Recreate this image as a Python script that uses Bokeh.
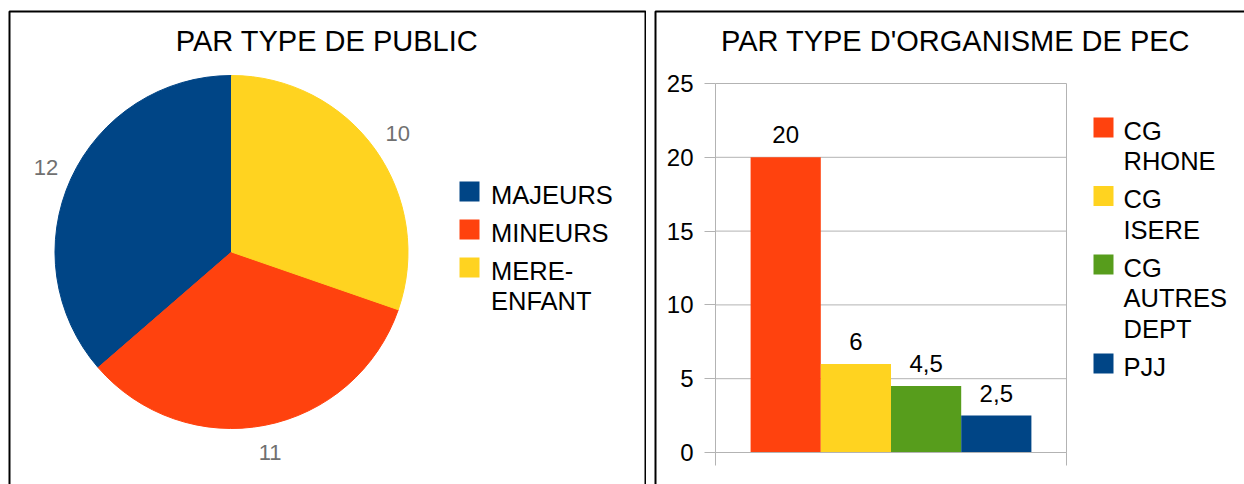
import math
from bokeh.plotting import figure
from bokeh.models import (Range1d, Label, LabelSet, BoxAnnotation, ColumnDataSource,
                          FixedTicker, LinearAxis)
from bokeh.layouts import row
from bokeh.embed import file_html
from bokeh.resources import INLINE
from bokeh.core.properties import value

# ---------------- data ----------------
pie_title = "PAR TYPE DE PUBLIC"
pie_labels = ["MAJEURS", "MINEURS", "MERE-\nENFANT"]
pie_values = [12, 11, 10]
pie_colors = ["#004586", "#ff420e", "#ffd320"]

bar_title = "PAR TYPE D'ORGANISME DE PEC"
bar_labels = ["CG\nRHONE", "CG\nISERE", "CG\nAUTRES\nDEPT", "PJJ"]
bar_values = [20, 6, 4.5, 2.5]
bar_colors = ["#ff420e", "#ffd320", "#579d1c", "#004586"]
y_ticks = [0, 5, 10, 15, 20, 25]

FONT = "Liberation Sans"
GRID = "#b3b3b3"
H = 484
LEG_LINE = 30.5
LEG_GAP = 38.0


def legend_layout(labels, first_center):
    """Return square centres and per-line text positions (page y) for a wrapped legend."""
    sq, tx, ty = [], [], []
    y = first_center
    for lab in labels:
        lines = lab.split("\n")
        sq.append(y - 3)
        for j, ln in enumerate(lines):
            tx.append(ln)
            ty.append(y + j * LEG_LINE)
        y += (len(lines) - 1) * LEG_LINE + LEG_GAP
    return sq, tx, ty


# ---------------- left: pie (data units = page pixels) ----------------
W1 = 646
p1 = figure(width=W1, height=H, x_range=Range1d(0, W1), y_range=Range1d(0, H),
            output_backend="svg", toolbar_location=None, min_border=0, title=None,
            x_axis_type=None, y_axis_type=None, outline_line_color=None)

def LY(py):
    return H - py

cx, cy, r = 231, LY(251.5), 176.5
total = sum(pie_values)
starts, ends = [], []
a = math.pi / 2
for v in pie_values:
    starts.append(a)
    a += 2 * math.pi * v / total
    ends.append(a)
src1 = ColumnDataSource(dict(start=starts, end=ends, color=pie_colors))
p1.wedge(x=cx, y=cy, radius=r, start_angle="start", end_angle="end",
         fill_color="color", line_color="color", line_width=1, source=src1)

mids = [(s + e) / 2 for s, e in zip(starts, ends)]
lr = 204
p1.text(x=[cx + lr * math.cos(m) for m in mids], y=[cy + lr * math.sin(m) for m in mids],
        text=[str(v) for v in pie_values], text_align="center", text_baseline="middle",
        text_font=value(FONT), text_font_size="22px", text_color="#707070")

p1.add_layout(Label(x=326.5, y=LY(40), text=pie_title, text_align="center", text_baseline="middle",
                    text_font=FONT, text_font_size="29px", text_color="black"))

sq1, tx1, ty1 = legend_layout(pie_labels, 194)
p1.rect(x=469, y=[LY(v) for v in sq1], width=20, height=20, fill_color=pie_colors, line_color=None)
p1.text(x=490.5, y=[LY(v) for v in ty1], text=tx1, text_align="left", text_baseline="middle",
        text_font=value(FONT), text_font_size="25.5px", text_color="black")

p1.add_layout(BoxAnnotation(left=9, right=645, top=LY(11), bottom=-100, fill_color=None, fill_alpha=0,
                            line_color="black", line_alpha=1, line_width=2))

# ---------------- right: bars ----------------
W2 = 1244 - W1
X0 = W1                      # page x of the right canvas
PL, PR, PT, PB = 715, 1066, 83, 452   # plot area in page pixels
YMAX = 25
sx = PR - PL
sy = (PB - PT) / YMAX

def X2(px):
    return (px - PL) / sx

def Y2(py):
    return (PB - py) / sy

p2 = figure(width=W2, height=H, x_range=Range1d(X2(X0), X2(X0 + W2)), y_range=Range1d(Y2(H), Y2(0)),
            output_backend="svg", toolbar_location=None, min_border=0, title=None,
            x_axis_type=None, y_axis_type=None, outline_line_color=None)

# grid lines and right edge of the plot area
p2.segment(x0=0, x1=1, y0=y_ticks, y1=y_ticks, line_color=GRID, line_width=1)
p2.segment(x0=1, x1=1, y0=0, y1=YMAX, line_color=GRID, line_width=1)

n = len(bar_values)
xs = [(i + 1) / (n + 1) for i in range(n)]
src2 = ColumnDataSource(dict(x=xs, top=bar_values, color=bar_colors,
                             txt=[("%g" % v).replace(".", ",") for v in bar_values]))
p2.vbar(x="x", top="top", bottom=0, width=1 / (n + 1), fill_color="color", line_color=None, source=src2)

p2.add_layout(LabelSet(x="x", y="top", text="txt", source=src2, y_offset=14, text_align="center",
                       text_baseline="alphabetic", text_font=value(FONT), text_font_size="24px",
                       text_color="black"))

yax = LinearAxis(fixed_location=0, bounds=(0, YMAX), ticker=FixedTicker(ticks=y_ticks),
                 major_tick_out=11, major_tick_in=0, minor_tick_line_color=None,
                 axis_line_color=GRID, major_tick_line_color=GRID,
                 major_label_text_font=FONT, major_label_text_font_size="24px",
                 major_label_text_color="black", major_label_standoff=11)
p2.add_layout(yax, "left")

xax = LinearAxis(fixed_location=0, bounds=(0, 1), ticker=FixedTicker(ticks=[0, 1]),
                 major_label_overrides={0: "", 1: ""}, major_label_text_font_size="1px",
                 major_tick_out=13, major_tick_in=0, minor_tick_line_color=None,
                 axis_line_color=GRID, major_tick_line_color=GRID)
p2.add_layout(xax, "below")

p2.add_layout(Label(x=X2(955), y=Y2(40), text=bar_title, text_align="center", text_baseline="middle",
                    text_font=FONT, text_font_size="29px", text_color="black"))

sq2, tx2, ty2 = legend_layout(bar_labels, 130)
p2.rect(x=X2(1103), y=[Y2(v) for v in sq2], width=20, height=20, width_units="screen",
        height_units="screen", fill_color=bar_colors, line_color=None)
p2.text(x=X2(1123), y=[Y2(v) for v in ty2], text=tx2, text_align="left", text_baseline="middle",
        text_font=value(FONT), text_font_size="25.5px", text_color="black")

p2.add_layout(BoxAnnotation(left=X2(655), right=X2(1400), top=Y2(11), bottom=Y2(700), fill_color=None,
                            fill_alpha=0, line_color="black", line_alpha=1, line_width=2))

layout = row(p1, p2)
open("out.html", "w").write(file_html(layout, INLINE))
